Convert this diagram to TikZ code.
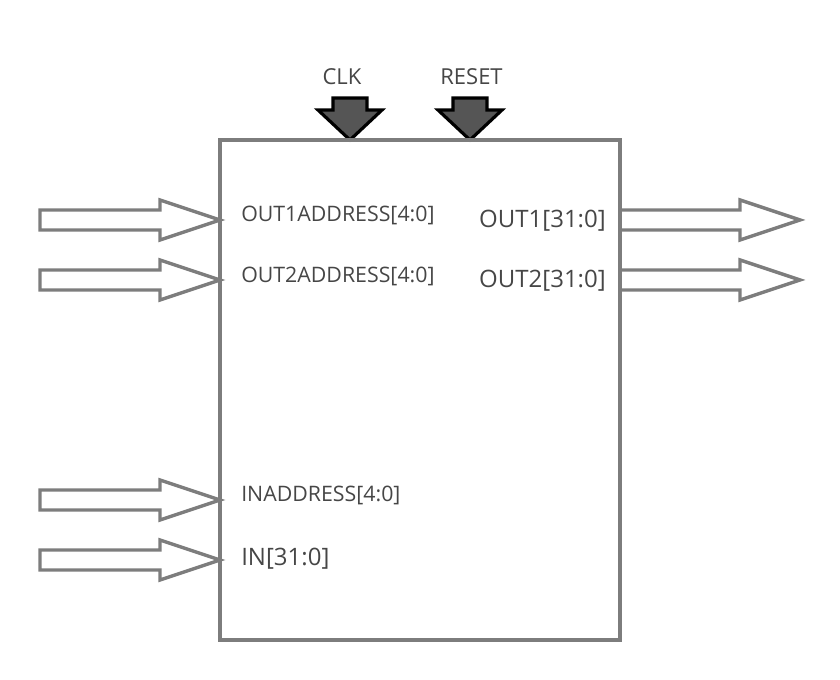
\documentclass[tikz,border=0pt]{standalone}
\usepackage{fontspec}
\setmainfont{Open Sans}
\definecolor{wiregray}{RGB}{125,125,125}
\definecolor{ctrlgray}{RGB}{85,85,85}
\definecolor{labelgray}{RGB}{70,70,70}
\begin{document}
\begin{tikzpicture}[x=0.75pt,y=-0.75pt,line join=miter,
  busarrow/.style={draw=wiregray,line width=2.6pt,fill=white},
  ctrlarrow/.style={draw=black,line width=2.4pt,fill=ctrlgray},
  pinlabel/.style={text=labelgray,inner sep=0pt,font=\fontsize{16}{18}\selectfont},
  buslabel/.style={text=labelgray,inner sep=0pt,font=\fontsize{18}{20}\selectfont}]
\useasboundingbox (0,0) rectangle (840,680);
% input buses
\foreach \y in {220,280,500,560}
  \draw[busarrow] (40,\y-10)--(160,\y-10)--(160,\y-20)--(220,\y)--(160,\y+20)--(160,\y+10)--(40,\y+10)--cycle;
% output buses
\foreach \y in {220,280}
  \draw[busarrow] (620,\y-10)--(740,\y-10)--(740,\y-20)--(800,\y)--(740,\y+20)--(740,\y+10)--(620,\y+10);
% clock and reset
\foreach \x in {350,470}
  \draw[ctrlarrow] (\x-17,98)--(\x+17,98)--(\x+17,110)--(\x+32,110)--(\x,140)--(\x-32,110)--(\x-17,110)--cycle;
\node[draw=wiregray,line width=2.6pt,minimum width=300pt,minimum height=375pt,inner sep=0pt] (regfile) at (420,390) {};
\node[buslabel,font=\fontsize{16.5}{18}\selectfont,anchor=base] (clk) at (342,85) {CLK};
\node[buslabel,font=\fontsize{16.5}{18}\selectfont,anchor=base] (reset) at (471.5,85) {RESET};
\node[pinlabel,anchor=base west] (out1addr) at (241,222) {OUT1ADDRESS[4:0]};
\node[pinlabel,anchor=base west] (out2addr) at (241,283) {OUT2ADDRESS[4:0]};
\node[pinlabel,anchor=base west] (inaddr) at (241,502) {INADDRESS[4:0]};
\node[buslabel,anchor=base west] (indata) at (241,566) {IN[31:0]};
\node[buslabel,anchor=base east] (out1) at (606,228) {OUT1[31:0]};
\node[buslabel,anchor=base east] (out2) at (606,288) {OUT2[31:0]};
\end{tikzpicture}
\end{document}
